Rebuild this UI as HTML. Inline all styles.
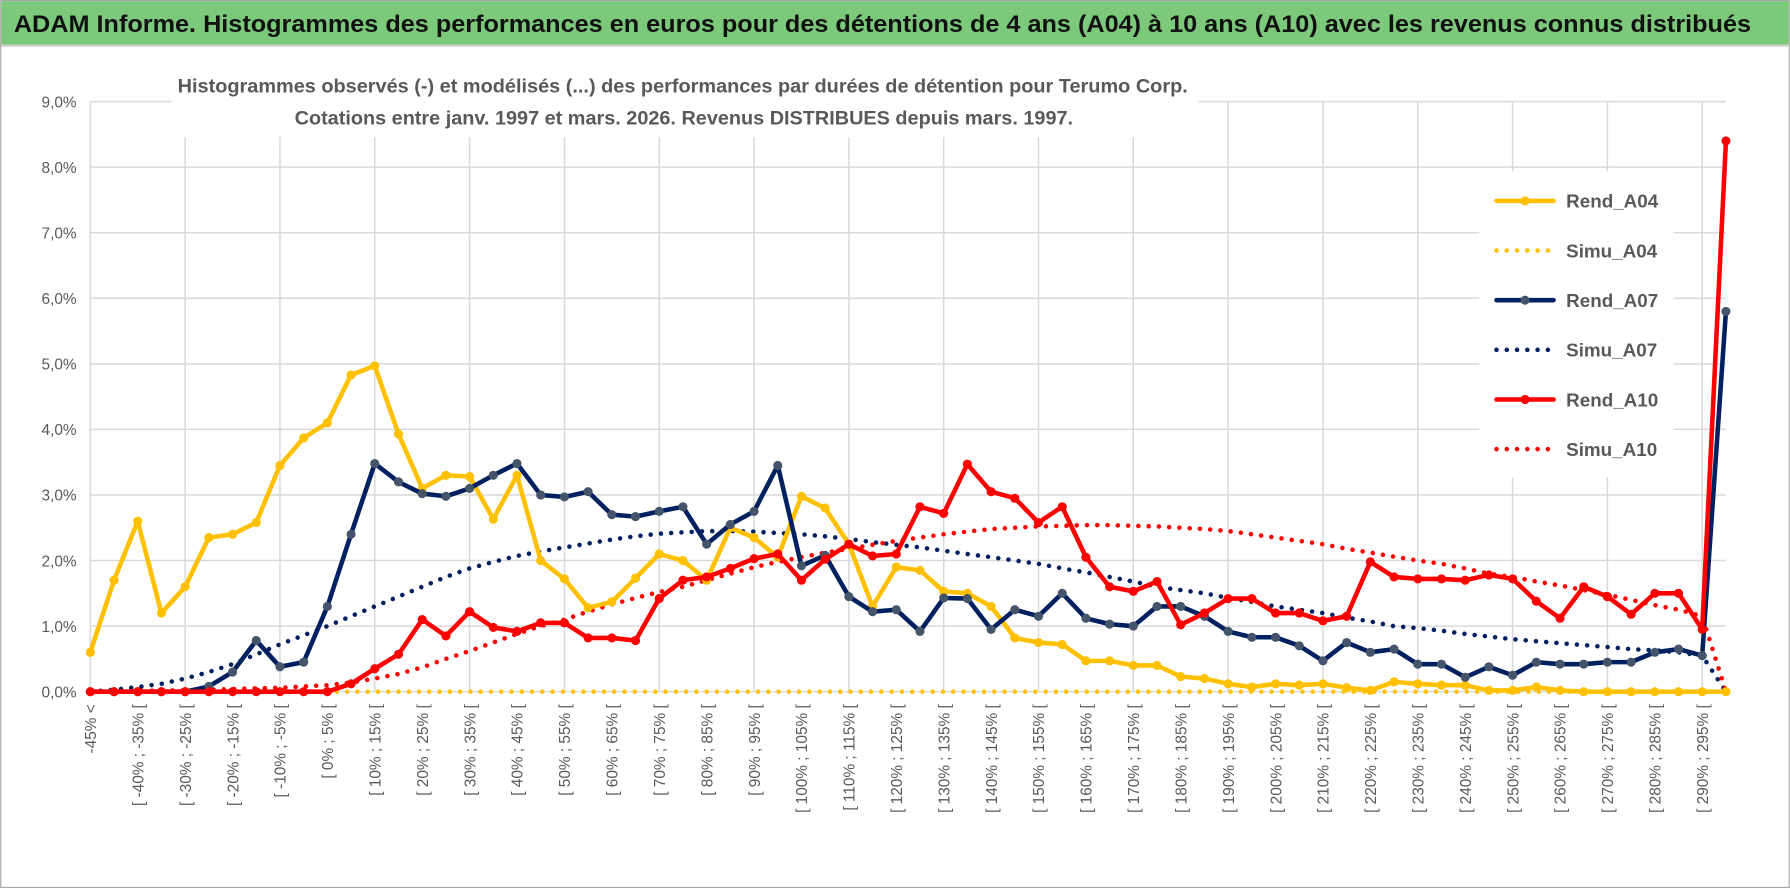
<!DOCTYPE html>
<html><head><meta charset="utf-8">
<style>
html,body{margin:0;padding:0;background:#fff;}
svg{display:block;font-family:"Liberation Sans",sans-serif;}
</style></head>
<body>
<svg id="chart" width="1790" height="888" viewBox="0 0 1568 778" xmlns="http://www.w3.org/2000/svg">
<rect x="0" y="0" width="1568" height="778" fill="#fff"/>
<rect x="0.5" y="0.5" width="1567" height="777" fill="none" stroke="#a6a6a6" stroke-width="1"/>
<rect x="1" y="1" width="1566" height="38" fill="#7cc97c"/>
<line x1="1" y1="40" x2="1567" y2="40" stroke="#d0d0d0" stroke-width="2"/>
<text x="12" y="28" font-size="21" font-weight="bold" fill="#111" textLength="1522" lengthAdjust="spacingAndGlyphs">ADAM Informe. Histogrammes des performances en euros pour des détentions de 4 ans (A04) à 10 ans (A10) avec les revenus connus distribués</text>
<g id="grid"></g>
<rect x="150" y="58" width="900" height="62" fill="#fff"/>
<text x="598" y="81" text-anchor="middle" font-size="17" font-weight="bold" fill="#595959" textLength="885" lengthAdjust="spacingAndGlyphs">Histogrammes observés (-) et modélisés (...) des performances par durées de détention pour Terumo Corp.</text>
<text x="599" y="109" text-anchor="middle" font-size="17" font-weight="bold" fill="#595959" textLength="682" lengthAdjust="spacingAndGlyphs">Cotations entre janv. 1997 et mars. 2026. Revenus DISTRIBUES depuis mars. 1997.</text>
<g id="yaxis"></g>
<g id="xaxis"></g>
<g id="series"></g>
<g id="legend"></g>
</svg>
<script>
const categories = (function(){ const c=["-45% <"]; for(let a=-45;a<300;a+=5){c.push("[ "+a+"% ; "+(a+5)+"% [");} return c; })();
const yTicks = [0,1,2,3,4,5,6,7,8,9];
const yTickLabels = ["0,0%","1,0%","2,0%","3,0%","4,0%","5,0%","6,0%","7,0%","8,0%","9,0%"];
const rendA04 = [0.6,1.7,2.6,1.2,1.6,2.35,2.4,2.58,3.45,3.87,4.1,4.83,4.97,3.93,3.1,3.3,3.28,2.63,3.3,2.0,1.72,1.28,1.37,1.73,2.1,2.0,1.7,2.5,2.35,2.05,2.98,2.8,2.25,1.3,1.9,1.85,1.53,1.5,1.3,0.82,0.75,0.72,0.47,0.47,0.4,0.4,0.23,0.2,0.12,0.07,0.12,0.1,0.12,0.06,0.02,0.15,0.12,0.1,0.1,0.02,0.02,0.07,0.02,0,0,0,0,0,0,0];
const simuA04 = [0,0,0,0,0,0,0,0,0,0,0,0,0,0,0,0,0,0,0,0,0,0,0,0,0,0,0,0,0,0,0,0,0,0,0,0,0,0,0,0,0,0,0,0,0,0,0,0,0,0,0,0,0,0,0,0,0,0,0,0,0,0,0,0,0,0,0,0,0,0];
const rendA07 = [0,0,0,0,0,0.08,0.3,0.78,0.38,0.45,1.3,2.4,3.48,3.2,3.02,2.98,3.1,3.3,3.48,3.0,2.97,3.05,2.7,2.67,2.75,2.82,2.25,2.55,2.75,3.45,1.92,2.08,1.45,1.22,1.25,0.92,1.43,1.42,0.95,1.25,1.15,1.5,1.12,1.03,1.0,1.3,1.3,1.15,0.92,0.83,0.83,0.7,0.47,0.75,0.6,0.65,0.42,0.42,0.22,0.38,0.25,0.45,0.42,0.42,0.45,0.45,0.6,0.65,0.55,5.8];
const simuA07 = [0,0.03,0.07,0.12,0.2,0.3,0.42,0.57,0.72,0.86,1.0,1.15,1.3,1.45,1.6,1.75,1.88,1.98,2.07,2.14,2.2,2.26,2.32,2.37,2.41,2.43,2.45,2.45,2.44,2.42,2.4,2.37,2.33,2.28,2.24,2.2,2.15,2.1,2.05,2.0,1.95,1.88,1.82,1.75,1.68,1.6,1.55,1.5,1.43,1.37,1.3,1.25,1.2,1.13,1.07,1.0,0.97,0.93,0.88,0.84,0.8,0.77,0.74,0.71,0.68,0.65,0.63,0.6,0.55,0];
const rendA10 = [0,0,0,0,0,0,0,0,0,0,0,0.12,0.35,0.57,1.1,0.85,1.22,0.98,0.92,1.05,1.05,0.82,0.82,0.78,1.42,1.7,1.75,1.88,2.03,2.1,1.7,2.02,2.25,2.07,2.1,2.82,2.72,3.47,3.05,2.95,2.58,2.82,2.05,1.6,1.53,1.68,1.02,1.2,1.42,1.42,1.2,1.2,1.08,1.15,1.98,1.75,1.72,1.72,1.7,1.78,1.72,1.38,1.12,1.6,1.45,1.18,1.5,1.5,0.95,8.4];
const simuA10 = [0,0.01,0.01,0.02,0.02,0.03,0.04,0.05,0.06,0.08,0.1,0.14,0.2,0.27,0.37,0.5,0.62,0.75,0.88,1.0,1.1,1.22,1.33,1.43,1.52,1.6,1.7,1.8,1.9,1.98,2.05,2.12,2.18,2.24,2.3,2.35,2.4,2.44,2.48,2.5,2.52,2.53,2.54,2.54,2.53,2.52,2.5,2.48,2.45,2.4,2.35,2.3,2.25,2.18,2.12,2.06,2.0,1.95,1.88,1.8,1.75,1.68,1.62,1.55,1.48,1.4,1.32,1.25,1.15,0];
const seriesNames = ["Rend_A04","Simu_A04","Rend_A07","Simu_A07","Rend_A10","Simu_A10"];

const NS="http://www.w3.org/2000/svg";
const X0=79, X1=1512, Y0=606, Y9=89;
function xs(i){ return X0 + i*(X1-X0)/(categories.length-1); }
function ys(v){ return Y0 - v*(Y0-Y9)/9; }
function mk(tag, attrs, parent){ const e=document.createElementNS(NS,tag); for(const k in attrs) e.setAttribute(k,attrs[k]); parent.appendChild(e); return e; }

const grid=document.getElementById('grid');
for(let i=0;i<categories.length;i+=4){
  const l=mk('line',{x1:xs(i),x2:xs(i),y1:Y9,y2:Y0,stroke:'#d9d9d9','stroke-width':1.3},grid);
  
  
}
const ya=document.getElementById('yaxis');
yTicks.forEach((t,k)=>{
  const l=mk('line',{x1:X0,x2:X1,y1:ys(t),y2:ys(t),stroke:'#d9d9d9','stroke-width':1.3},grid);
  
  
  const tx=mk('text',{x:67,y:ys(t)+5,'text-anchor':'end','font-size':13.5,fill:'#595959'},ya);
  tx.textContent=yTickLabels[k];
  
  
});
const xa=document.getElementById('xaxis');
categories.forEach((c,i)=>{
  if(i%2) return;
  const x=xs(i)+5, y=617;
  const tx=mk('text',{x:x,y:y,transform:'rotate(-90 '+x+' '+y+')','text-anchor':'end','font-size':13.5,fill:'#595959'},xa);
  tx.textContent=c;
  
  
});

const sg=document.getElementById('series');
function drawSeries(vals,color,dotted,markerFill,name){
  const pts=vals.map((v,i)=>xs(i).toFixed(1)+','+ys(v).toFixed(1)).join(' ');
  const attrs={points:pts,fill:'none',stroke:color,'stroke-width':dotted?4:4,'stroke-linejoin':'round','stroke-linecap':'round'};
  if(dotted){ attrs['stroke-dasharray']='0 9'; }
  const pl=mk('polyline',attrs,sg);
  
  
  if(markerFill){
    vals.forEach((v,i)=>{
      const c=mk('circle',{cx:xs(i),cy:ys(v),r:4,fill:markerFill},sg);
      
      
    });
  }
}
drawSeries(simuA04,'#FFC000',true,null,'simu-a04');
drawSeries(simuA07,'#002060',true,null,'simu-a07');
drawSeries(simuA10,'#FF0000',true,null,'simu-a10');
drawSeries(rendA04,'#FFC000',false,'#FFC000','rend-a04');
drawSeries(rendA07,'#002060',false,'#44546A','rend-a07');
drawSeries(rendA10,'#FF0000',false,'#FF0000','rend-a10');

const lg=document.getElementById('legend');
const bg=mk('rect',{x:1296,y:150,width:170,height:268,fill:'#fff'},lg);


const legColors=['#FFC000','#FFC000','#002060','#002060','#FF0000','#FF0000'];
const legMark=['#FFC000',null,'#44546A',null,'#FF0000',null];
seriesNames.forEach((n,k)=>{
  const y=176+k*43.5;
  const a={x1:1311,x2:1361,y1:y,y2:y,stroke:legColors[k],'stroke-width':4,'stroke-linecap':'round'};
  if(!legMark[k]) a['stroke-dasharray']='0 9';
  const l=mk('line',a,lg);
  
  
  if(legMark[k]){
    const c=mk('circle',{cx:1336,cy:y,r:4,fill:legMark[k]},lg);
    
    
  }
  const t=mk('text',{x:1372,y:y+6,'font-size':16.5,'font-weight':'bold',fill:'#595959'},lg);
  t.textContent=n;
  
  
});
</script>
</body></html>
